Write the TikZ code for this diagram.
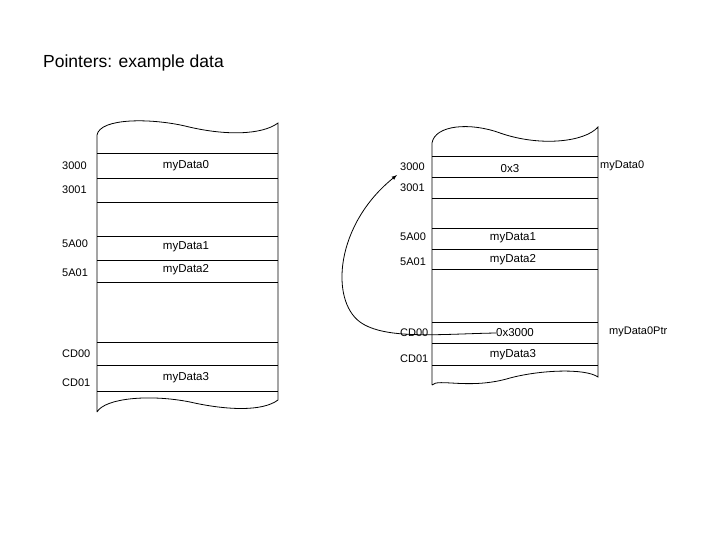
\documentclass[tikz,border=0pt]{standalone}
\usepackage{fontspec}
\setmainfont{Liberation Sans}
\begin{document}
\begin{tikzpicture}[x=1pt,y=-1pt,
 lab/.style={font=\fontsize{11}{13}\selectfont,anchor=west,inner sep=0},
 dat/.style={font=\fontsize{11.5}{13}\selectfont,inner sep=0},
 ln/.style={line width=0.8pt}]
\useasboundingbox (0,0) rectangle (720,540);
\node[anchor=west,inner sep=0,font=\fontsize{17.5}{20}\selectfont] (title) at (43,63) {Pointers: example data};
% left box
\draw[ln] (97,412) -- (97,135) .. controls (100,118) and (150,118) .. (185,126) .. controls (225,136) and (262,135) .. (278,123) -- (278,400) .. controls (262,412) and (225,410) .. (190,402) .. controls (150,394) and (105,398) .. (97,412);
\foreach \y in {153,178,202,236,260,282,342,365,391} \draw[ln] (97,\y) -- (278,\y);
\node[lab] (l1) at (62,166) {3000};
\node[lab] (l2) at (62,190) {3001};
\node[lab] (l3) at (62,244) {5A00};
\node[lab] (l4) at (62,273) {5A01};
\node[lab] (l5) at (62,354) {CD00};
\node[lab] (l6) at (62,383) {CD01};
\node[dat] (d0) at (186,166) {myData0};
\node[dat] (d1) at (186,247) {myData1};
\node[dat] (d2) at (186,270) {myData2};
\node[dat] (d3) at (186,378) {myData3};
% right box
\draw[ln] (432,385) -- (432,143) .. controls (435,125) and (470,122) .. (500,133) .. controls (540,147) and (585,142) .. (598,127) -- (598,377) .. controls (585,368) and (540,370) .. (510,378) .. controls (470,390) and (438,378) .. (432,385);
\foreach \y in {156,177,198,228,249,269,322,343,365} \draw[ln] (432,\y) -- (598,\y);
\node[lab] (r1) at (400,167) {3000};
\node[lab] (r2) at (400,188) {3001};
\node[lab] (r3) at (400,237) {5A00};
\node[lab] (r4) at (400,262) {5A01};
\node[lab] (r5) at (400,333) {CD00};
\node[lab] (r6) at (400,359) {CD01};
\node[dat] (e0) at (510,169) {0x3};
\node[dat] (e1) at (513,238) {myData1};
\node[dat] (e2) at (513,260) {myData2};
\node[dat] (e3) at (515,333) {0x3000};
\node[dat] (e4) at (513,355) {myData3};
\node[lab] (n0) at (600,166) {myData0};
\node[lab] (n1) at (609,332) {myData0Ptr};
\coordinate (tip) at (397,175);
\draw[line width=0.8pt,-latex] (e3.west) .. controls (440,334) and (385,340) .. (360,322) .. controls (330,300) and (335,225) .. (tip);
\end{tikzpicture}
\end{document}
